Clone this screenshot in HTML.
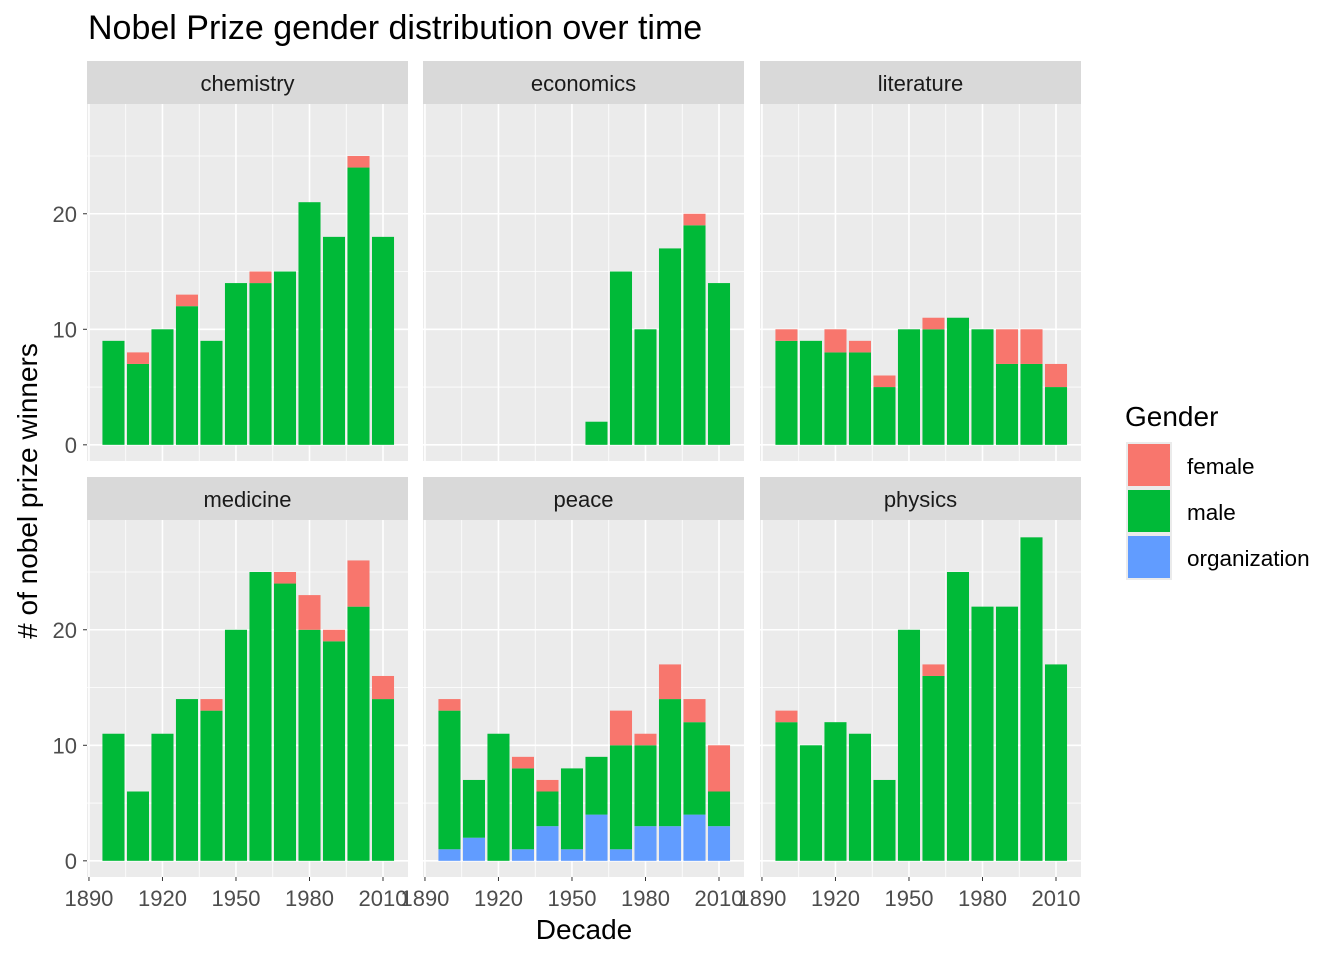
<!DOCTYPE html>
<html><head><meta charset="utf-8"><style>
body{margin:0;background:#fff;}
svg{display:block;font-family:"Liberation Sans",sans-serif;}
</style></head><body>
<svg id="chart" width="1344" height="960">
<text x="88" y="39" font-size="34" fill="#000">Nobel Prize gender distribution over time</text>
<text x="584" y="939" font-size="28" text-anchor="middle" fill="#000">Decade</text>
<text transform="translate(37,491) rotate(-90)" font-size="28" text-anchor="middle" fill="#000"># of nobel prize winners</text>
<g id="panels"></g>
<g>
<text x="1125" y="426" font-size="28" fill="#000">Gender</text>
<rect x="1126" y="442" width="46" height="46" fill="#ebebeb"/><rect x="1128" y="444" width="42" height="42" fill="#F8766D"/>
<text x="1187" y="474" font-size="22.5" fill="#000">female</text>
<rect x="1126" y="488" width="46" height="46" fill="#ebebeb"/><rect x="1128" y="490" width="42" height="42" fill="#00BA38"/>
<text x="1187" y="520" font-size="22.5" fill="#000">male</text>
<rect x="1126" y="534" width="46" height="46" fill="#ebebeb"/><rect x="1128" y="536" width="42" height="42" fill="#619CFF"/>
<text x="1187" y="566" font-size="22.5" fill="#000">organization</text>
</g>
</svg>
<script>
const decades=[1900,1910,1920,1930,1940,1950,1960,1970,1980,1990,2000,2010];
const categories=["chemistry","economics","literature","medicine","peace","physics"];
const chemistryMale=[9,7,10,12,9,14,14,15,21,18,24,18];
const chemistryFemale=[0,1,0,1,0,0,1,0,0,0,1,0];
const chemistryOrg=[0,0,0,0,0,0,0,0,0,0,0,0];
const economicsMale=[0,0,0,0,0,0,2,15,10,17,19,14];
const economicsFemale=[0,0,0,0,0,0,0,0,0,0,1,0];
const economicsOrg=[0,0,0,0,0,0,0,0,0,0,0,0];
const literatureMale=[9,9,8,8,5,10,10,11,10,7,7,5];
const literatureFemale=[1,0,2,1,1,0,1,0,0,3,3,2];
const literatureOrg=[0,0,0,0,0,0,0,0,0,0,0,0];
const medicineMale=[11,6,11,14,13,20,25,24,20,19,22,14];
const medicineFemale=[0,0,0,0,1,0,0,1,3,1,4,2];
const medicineOrg=[0,0,0,0,0,0,0,0,0,0,0,0];
const peaceMale=[12,5,11,7,3,7,5,9,7,11,8,3];
const peaceFemale=[1,0,0,1,1,0,0,3,1,3,2,4];
const peaceOrg=[1,2,0,1,3,1,4,1,3,3,4,3];
const physicsMale=[12,10,12,11,7,20,16,25,22,22,28,17];
const physicsFemale=[1,0,0,0,0,0,1,0,0,0,0,0];
const physicsOrg=[0,0,0,0,0,0,0,0,0,0,0,0];
const xTicks=[1890,1920,1950,1980,2010];
const yTicks=[0,10,20];
const series={chemistry:[chemistryOrg,chemistryMale,chemistryFemale],economics:[economicsOrg,economicsMale,economicsFemale],literature:[literatureOrg,literatureMale,literatureFemale],medicine:[medicineOrg,medicineMale,medicineFemale],peace:[peaceOrg,peaceMale,peaceFemale],physics:[physicsOrg,physicsMale,physicsFemale]};
const colors=["#619CFF","#00BA38","#F8766D"];
const names=["organization","male","female"];
const NS="http://www.w3.org/2000/svg";
const root=document.getElementById("panels");
function mk(tag,attrs,parent){const e=document.createElementNS(NS,tag);for(const k in attrs)e.setAttribute(k,attrs[k]);parent.appendChild(e);return e;}
const pw=321, ph=357, lefts=[87,423,760], tops=[104,520];
const xmin=1889.2,xmax=2020.2,ymin=-1.4,ymax=29.5;
categories.forEach((cat,i)=>{
  const col=i%3,row=Math.floor(i/3);
  const L=lefts[col],T=tops[row];
  const xs=v=>L+(v-xmin)/(xmax-xmin)*pw;
  const ys=v=>T+ph-(v-ymin)/(ymax-ymin)*ph;
  const g=mk("g",{},root);
  
  
  const strip=mk("rect",{x:L,y:T-43,width:pw,height:43,fill:"#d9d9d9"},g);
  
  
  const st=mk("text",{x:L+pw/2,y:T-13,"font-size":"22","text-anchor":"middle",fill:"#1a1a1a"},g);st.textContent=cat;
  
  
  mk("rect",{x:L,y:T,width:pw,height:ph,fill:"#ebebeb"},g);
  for(let y=5;y<30;y+=10)mk("line",{x1:L,x2:L+pw,y1:ys(y),y2:ys(y),stroke:"#fff","stroke-width":"0.8"},g);
  for(let x=1905;x<2020;x+=30)mk("line",{x1:xs(x),x2:xs(x),y1:T,y2:T+ph,stroke:"#fff","stroke-width":"0.8"},g);
  yTicks.forEach(v=>mk("line",{x1:L,x2:L+pw,y1:ys(v),y2:ys(v),stroke:"#fff","stroke-width":"1.6"},g));
  xTicks.forEach(v=>mk("line",{x1:xs(v),x2:xs(v),y1:T,y2:T+ph,stroke:"#fff","stroke-width":"1.6"},g));
  const s=series[cat];
  decades.forEach((d,j)=>{
    let base=0;
    s.forEach((arr,k)=>{
      const v=arr[j]; if(!v)return;
      const r=mk("rect",{x:xs(d-4.5),y:ys(base+v),width:xs(d+4.5)-xs(d-4.5),height:ys(base)-ys(base+v),fill:colors[k]},g);
      
      
      base+=v;
    });
  });
  if(col===0){yTicks.forEach(v=>{
    mk("line",{x1:L-4,x2:L,y1:ys(v),y2:ys(v),stroke:"#333","stroke-width":"1"},g);
    const t=mk("text",{x:L-10,y:ys(v)+8,"font-size":"22","text-anchor":"end",fill:"#4d4d4d"},g);t.textContent=v;
    
    
  });}
  if(row===1){xTicks.forEach(v=>{
    mk("line",{x1:xs(v),x2:xs(v),y1:T+ph,y2:T+ph+4,stroke:"#333","stroke-width":"1"},g);
    const t=mk("text",{x:xs(v),y:T+ph+29,"font-size":"22","text-anchor":"middle",fill:"#4d4d4d"},g);t.textContent=v;
    
    
  });}
});
</script>
</body></html>
